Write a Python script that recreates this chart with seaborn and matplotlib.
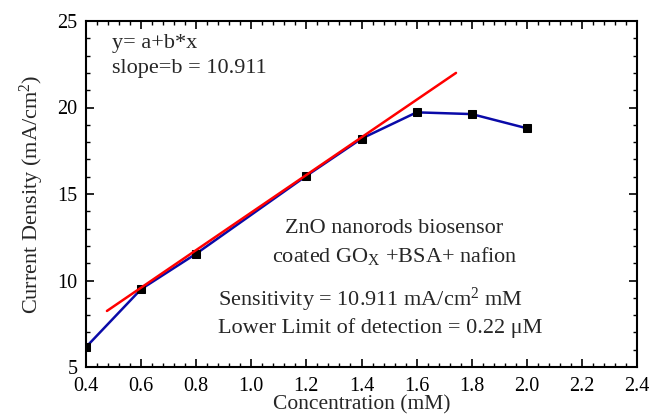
import matplotlib
matplotlib.use("Agg")
import matplotlib.pyplot as plt
from matplotlib.ticker import MultipleLocator
import seaborn as sns
import pandas as pd

# data
conc = [0.4, 0.6, 0.8, 1.2, 1.4, 1.6, 1.8, 2.0]
current = [6.15, 9.5, 11.55, 16.05, 18.2, 19.72, 19.62, 18.8]
fit_x = [0.476, 1.743]
fit_y = [8.24, 22.0]

sns.set_theme(style="ticks")
plt.rcParams['font.family'] = ['Liberation Serif', 'DejaVu Serif']
plt.rcParams['mathtext.fontset'] = 'custom'
plt.rcParams['mathtext.rm'] = 'Liberation Serif'
plt.rcParams['mathtext.it'] = 'Liberation Serif:italic'

fig = plt.figure(figsize=(6.54, 4.17), dpi=100)
ax = fig.add_axes([86/654, 1-367/417, (637-86)/654, (367-21)/417])

df = pd.DataFrame({"x": conc, "y": current})
dfit = pd.DataFrame({"x": fit_x, "y": fit_y})
sns.lineplot(data=df, x="x", y="y", ax=ax, color="#0a0aa8", linewidth=1.8,
             marker="s", markersize=6, markerfacecolor="black",
             markeredgecolor="black", sort=False)
sns.lineplot(data=dfit, x="x", y="y", ax=ax, color="#ff0000", linewidth=1.8, sort=False)

ax.set_xlim(0.4, 2.4)
ax.set_ylim(5, 25)
ax.xaxis.set_major_locator(MultipleLocator(0.2))
ax.xaxis.set_minor_locator(MultipleLocator(0.04))
ax.yaxis.set_major_locator(MultipleLocator(5))
ax.yaxis.set_minor_locator(MultipleLocator(1))
ax.set_xticklabels([f"{v:.1f}" for v in ax.get_xticks()])
ax.tick_params(which="both", direction="in", top=True, right=True,
               colors="black", labelsize=14.5)
ax.tick_params(which="major", length=6, width=1.2)
ax.tick_params(axis="x", which="major", pad=7)
ax.tick_params(axis="y", which="major", pad=6)
ax.tick_params(which="minor", length=3, width=1.0)
for s in ax.spines.values():
    s.set_linewidth(1.5)
    s.set_color("black")

ax.set_xlabel("Concentration (mM)", fontsize=15.5, labelpad=0)
ax.set_ylabel("Current Density (mA/cm$^2$)", fontsize=16, labelpad=8)

ax.text(0.047, 0.936, "y= a+b*x", transform=ax.transAxes, fontsize=16, va="center")
ax.text(0.047, 0.864, "slope=b = 10.911", transform=ax.transAxes, fontsize=16, va="center")
ax.text(1.52, 13.03, "ZnO nanorods biosensor", fontsize=16, ha="center", va="center")
ax.text(1.52, 11.42, "coated GO$_\\mathrm{X}$ +BSA+ nafion", fontsize=16, ha="center", va="center")
ax.text(0.879, 8.87, "Sensitivity = 10.911 mA/cm$^2$ mM", fontsize=16, ha="left", va="center")
ax.text(0.879, 7.25, "Lower Limit of detection = 0.22 μM", fontsize=16, ha="left", va="center")

fig.savefig("out.png", dpi=100)
